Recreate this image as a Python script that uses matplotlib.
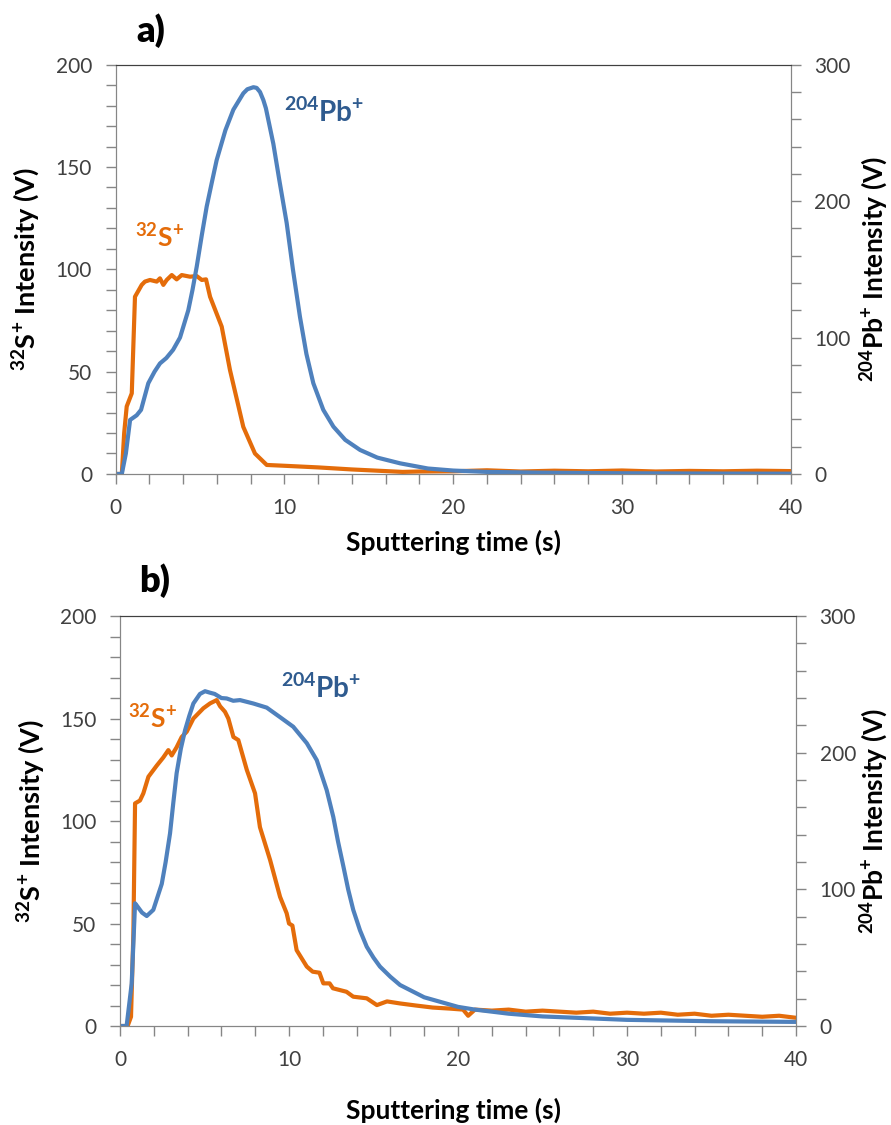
import matplotlib
matplotlib.use('Agg')
import matplotlib.pyplot as plt
from matplotlib.ticker import MultipleLocator

plt.rcParams['font.family'] = ['Lato', 'DejaVu Sans']
plt.rcParams['mathtext.fontset'] = 'custom'
plt.rcParams['mathtext.rm'] = 'Lato:bold'
plt.rcParams['mathtext.it'] = 'Lato:bold'
plt.rcParams['mathtext.bf'] = 'Lato:bold'

# panel a) data
ta_s = [0, 0.36, 0.5, 0.65, 0.95, 1.14, 1.54, 1.73, 2.03, 2.43, 2.62, 2.82, 3.02, 3.32, 3.61,
        3.91, 4.4, 4.8, 5.1, 5.35, 5.59, 6.28, 6.77, 7.56, 8.25, 8.95, 10, 12, 14, 16,
        17, 18, 20, 22, 24, 26, 28, 30, 32, 34, 36, 38, 40]
s_a = [0, 0, 20, 33, 39.4, 86.6, 92.4, 94, 94.8, 94, 95.6, 92.4, 94.8, 97.2, 95.1,
       97.2, 96.4, 96.7, 94.8, 95.1, 86.6, 72, 50.8, 23, 10, 4.4, 4.0, 3.2, 2.2, 1.4,
       1.0, 1.2, 1.3, 1.8, 1.2, 1.6, 1.3, 1.7, 1.2, 1.5, 1.3, 1.6, 1.4]
ta_pb = [0, 0.36, 0.6, 0.85, 1.24, 1.5, 1.93, 2.3, 2.62, 3.0, 3.4, 3.81, 4.3, 4.55, 4.8,
         5.1, 5.39, 5.7, 5.98, 6.5, 6.97, 7.56, 7.8, 8.16, 8.35, 8.55, 8.75, 8.9, 9.34, 9.7,
         10.13, 10.5, 10.92, 11.3, 11.71, 12.3, 12.9, 13.6, 14.48, 15.5, 16.85, 18.5, 20, 22, 25,
         30, 35, 40]
pb_a = [0, 0, 15, 39.6, 43, 47, 66.5, 75, 81, 85, 91, 100, 120, 135, 152,
        175, 196, 214, 230, 252, 267, 279, 282, 283.5, 283, 280, 274, 268, 242, 215,
        184, 150, 115, 88, 66.5, 47, 34.7, 25, 17.6, 12, 7.8, 4, 2.5, 1.5, 1,
        0.5, 0.3, 0.2]

# panel b) data
tb_s = [0, 0.45, 0.65, 0.79, 0.89, 1.18, 1.38, 1.68, 2.17, 2.56, 2.86, 3.06, 3.35, 3.65, 3.95,
        4.34, 4.93, 5.33, 5.72, 5.92, 6.21, 6.41, 6.71, 7.0, 7.5, 7.99, 8.28, 8.88, 9.47, 9.86,
        10.0, 10.2, 10.45, 11.05, 11.4, 11.8, 12.03, 12.4, 12.6, 13.4, 13.8, 14.6, 15.2, 15.8, 16.57,
        17.5, 18.5, 19.5, 20.3, 20.6, 21, 22, 23, 24, 25, 26, 27, 28, 29, 30,
        31, 32, 33, 34, 35, 36, 37, 38, 39, 40]
s_b = [0, 0, 4.5, 45, 108.6, 110, 113.5, 121.6, 127, 131, 134.6, 132, 136, 141, 143.6,
       150, 155, 157.4, 159, 156, 153.3, 150, 141, 139.5, 125, 113.5, 97, 81, 63, 55,
       50, 49, 37, 29, 26.5, 26, 20.8, 20.8, 18.4, 16.7, 14.3, 13.5, 10.2, 12, 11,
       10, 9, 8.5, 8, 5, 8, 7.5, 8, 7, 7.5, 7, 6.5, 7, 6, 6.5,
       6, 6.5, 5.5, 6, 5, 5.5, 5, 4.5, 5, 4]
tb_pb = [0, 0.39, 0.69, 0.89, 1.0, 1.3, 1.58, 1.97, 2.47, 2.7, 2.96, 3.15, 3.35, 3.6, 3.85,
         4.1, 4.34, 4.73, 5.03, 5.3, 5.6, 6.0, 6.31, 6.7, 7.1, 7.89, 8.68, 9.47, 10.25, 11.05,
         11.64, 12.23, 12.62, 12.9, 13.22, 13.5, 13.8, 14.2, 14.6, 15.0, 15.38, 16.0, 16.57, 18, 20,
         21, 23, 25, 30, 35, 40]
pb_b = [0, 0, 31, 89.8, 88, 83, 80.5, 85, 104, 120, 141, 163, 185, 203, 216.5,
        227, 236, 243, 245, 244, 243, 240, 239.7, 238, 238.5, 236, 233, 226, 219, 207,
        194.6, 172.6, 153, 135, 116.6, 100, 85, 70, 58, 50, 43.5, 36, 30, 21, 14,
        12, 9, 7, 4.5, 3.5, 3]

orange = '#E46C0A'
blue = '#4F81BD'
blue_txt = '#2F5B8F'
grey = '#868686'

fig = plt.figure(figsize=(8.91, 11.25), dpi=100)


def panel(rect, t_s, s, t_pb, pb, s_pos, pb_pos, letter, letter_xy, ylab_x, rlab_x, xlab_y):
    ax = fig.add_axes(rect)
    ax2 = ax.twinx()
    ax.plot(t_s, s, color=orange, lw=3)
    ax2.plot(t_pb, pb, color=blue, lw=3)
    ax.set_xlim(0, 40)
    ax.set_ylim(0, 200)
    ax2.set_ylim(0, 300)
    ax.xaxis.set_major_locator(MultipleLocator(10))
    ax.xaxis.set_minor_locator(MultipleLocator(2))
    ax.yaxis.set_major_locator(MultipleLocator(50))
    ax.yaxis.set_minor_locator(MultipleLocator(10))
    ax2.yaxis.set_major_locator(MultipleLocator(100))
    ax2.yaxis.set_minor_locator(MultipleLocator(20))
    for a in (ax, ax2):
        a.tick_params(which='both', direction='out', color=grey, length=7, width=1,
                      labelsize=15, labelcolor='#404040', pad=10)
        for side in ('left', 'right', 'bottom'):
            a.spines[side].set_color(grey)
        a.spines['top'].set_color('#404040')
    ax2.text(s_pos[0], s_pos[1] * 1.5, '$^{32}$S$^{+}$', color=orange, fontsize=19, fontweight='bold')
    ax2.text(pb_pos[0], pb_pos[1] * 1.5, '$^{204}$Pb$^{+}$', color=blue_txt, fontsize=20, fontweight='bold')
    fig.text(453 / 891, xlab_y, 'Sputtering time (s)', fontsize=19,
             fontweight='bold', ha='center', va='center')
    fig.text(letter_xy[0], letter_xy[1], letter, fontsize=26, fontweight='heavy', ha='center', va='center')
    fig.text(ylab_x, rect[1] + rect[3] / 2, '$^{32}$S$^{+}$ Intensity (V)', rotation=90,
             fontsize=19.5, fontweight='bold', ha='center', va='center')
    fig.text(rlab_x, rect[1] + rect[3] / 2, '$^{204}$Pb$^{+}$ Intensity (V)', rotation=90,
             fontsize=19, fontweight='bold', ha='center', va='center')
    return ax


panel([0.1299, 0.5787, 0.7575, 0.3638], ta_s, s_a, ta_pb, pb_a,
      (1.15, 111), (10.0, 172), 'a)', (151 / 891, 1 - 31 / 1125), 26 / 891, 874 / 891, 1 - 542 / 1125)
panel([0.1347, 0.0880, 0.7587, 0.3644], tb_s, s_b, tb_pb, pb_b,
      (0.5, 145), (9.5, 160), 'b)', (155 / 891, 1 - 581 / 1125), 31 / 891, 874 / 891, 1 - 1110 / 1125)

fig.savefig('out.png', dpi=100)
